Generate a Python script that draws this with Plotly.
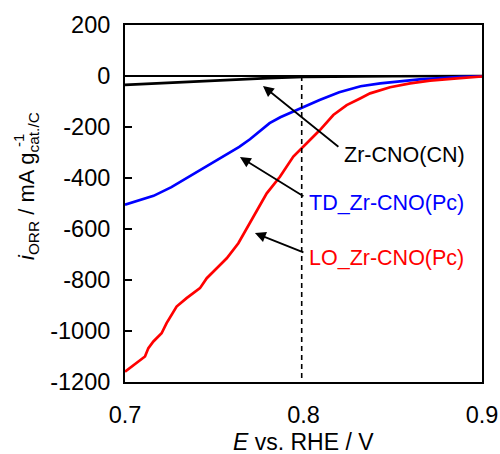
import plotly.graph_objects as go

# ---- data ----
cn_x = [0.70, 0.72, 0.74, 0.76, 0.78, 0.80, 0.82, 0.85, 0.90]
cn_y = [-35, -28, -21, -14, -8, -4, -2, -1, 0]

td_x = [0.700, 0.708, 0.716, 0.726, 0.736, 0.746, 0.753, 0.759, 0.764, 0.770, 0.776,
        0.781, 0.787, 0.797, 0.809, 0.820, 0.832, 0.843, 0.854, 0.865, 0.877, 0.888, 0.900]
td_y = [-505, -488, -470, -436, -395, -353, -323, -300, -278, -248, -212,
        -185, -162, -131, -94, -64, -40, -29, -20, -13, -8, -3, -1]

lo_x = [0.700, 0.7065, 0.7112, 0.7131, 0.7159, 0.7205, 0.7233, 0.7289, 0.7345, 0.7420,
        0.7458, 0.7514, 0.7570, 0.7635, 0.7700, 0.7719, 0.7794, 0.7868, 0.7943, 0.8018,
        0.8092, 0.8167, 0.8242, 0.8317, 0.8373, 0.8485, 0.8597, 0.8709, 0.8821, 0.8877, 0.900]
lo_y = [-1160, -1126, -1100, -1067, -1041, -1009, -969, -904, -871, -832,
        -793, -754, -715, -656, -577, -552, -460, -395, -316, -264,
        -212, -153, -114, -88, -68, -44, -29, -18, -10, -8, -2]

x_ticks = [0.7, 0.8, 0.9]
x_ticktext = ["0.7", "0.8", "0.9"]
y_ticks = [200, 0, -200, -400, -600, -800, -1000, -1200]
y_ticktext = ["200", "0", "-200", "-400", "-600", "-800", "-1000", "-1200"]

series_names = ["Zr-CNO(CN)", "TD_Zr-CNO(Pc)", "LO_Zr-CNO(Pc)"]
series_colors = ["#000000", "#0000FF", "#FF0000"]

ref_potential = 0.799

FONT = "Liberation Sans, Arial, sans-serif"

fig = go.Figure()
for xs, ys, name, col in [(cn_x, cn_y, series_names[0], series_colors[0]),
                          (td_x, td_y, series_names[1], series_colors[1]),
                          (lo_x, lo_y, series_names[2], series_colors[2])]:
    fig.add_trace(go.Scatter(x=xs, y=ys, mode="lines", name=name,
                             line=dict(color=col, width=2.7), showlegend=False))

# dashed reference line
fig.add_shape(type="line", xref="x", yref="y", x0=ref_potential, x1=ref_potential,
              y0=0, y1=-1200, line=dict(color="black", width=1.6, dash="5px,4px"))

# labels with arrows
labels = [
    # text, text x, text y, head x, head y, tail x, tail y, colour
    (series_names[0], 0.8215, -310, 0.7773, -39, 0.8204, -282, series_colors[0]),
    (series_names[1], 0.8020, -498, 0.7644, -318, 0.8008, -475, series_colors[1]),
    (series_names[2], 0.8020, -714, 0.7728, -616, 0.8008, -694, series_colors[2]),
]
for txt, tx, ty, hx, hy, ax, ay, col in labels:
    fig.add_annotation(x=hx, y=hy, ax=ax, ay=ay, xref="x", yref="y", axref="x", ayref="y",
                       text="", showarrow=True, arrowhead=2, arrowsize=1.2,
                       arrowwidth=1.8, arrowcolor="black")
    fig.add_annotation(x=tx, y=ty, xref="x", yref="y", text=txt, showarrow=False,
                       xanchor="left", yanchor="middle",
                       font=dict(family=FONT, size=21.5, color=col))

# axis titles
fig.add_annotation(xref="paper", yref="paper", x=0.5, y=0, yshift=-60,
                   text="<i>E</i> vs. RHE / V", showarrow=False,
                   xanchor="center", yanchor="middle",
                   font=dict(family=FONT, size=23, color="black"))
fig.add_annotation(xref="paper", yref="paper", x=0, xshift=-97, y=0.549,
                   text="<i>i</i><sub>ORR</sub> / mA g<sub>cat./C</sub>",
                   textangle=-90, showarrow=False,
                   xanchor="center", yanchor="middle",
                   font=dict(family=FONT, size=22, color="black"))
fig.add_annotation(xref="paper", yref="paper", x=0, xshift=-107, y=0.675,
                   text="-1", textangle=-90, showarrow=False,
                   xanchor="center", yanchor="middle",
                   font=dict(family=FONT, size=15, color="black"))

fig.update_layout(
    width=500, height=454,
    margin=dict(l=125, r=18, t=25, b=72),
    paper_bgcolor="white", plot_bgcolor="white",
    font=dict(family=FONT, size=23.5, color="black"),
    xaxis=dict(range=[0.7, 0.9], tickvals=x_ticks, ticktext=x_ticktext,
               showline=True, mirror=True, linecolor="black", linewidth=2,
               ticks="", showgrid=False, zeroline=False, ticklabelstandoff=11,
               automargin=False,
               tickfont=dict(family=FONT, size=23.5, color="black")),
    yaxis=dict(range=[-1200, 200], tickvals=y_ticks, ticktext=y_ticktext,
               showline=True, mirror=True, linecolor="black", linewidth=2,
               ticks="inside", ticklen=7, tickwidth=1.6, tickcolor="black",
               showgrid=False, zeroline=True, zerolinecolor="black", zerolinewidth=1.6,
               ticklabelstandoff=8, automargin=False,
               tickfont=dict(family=FONT, size=23.5, color="black")),
)

fig.write_html("out.html", config={"displayModeBar": False},
               post_script="document.body.style.margin='0';document.body.style.padding='0';")
